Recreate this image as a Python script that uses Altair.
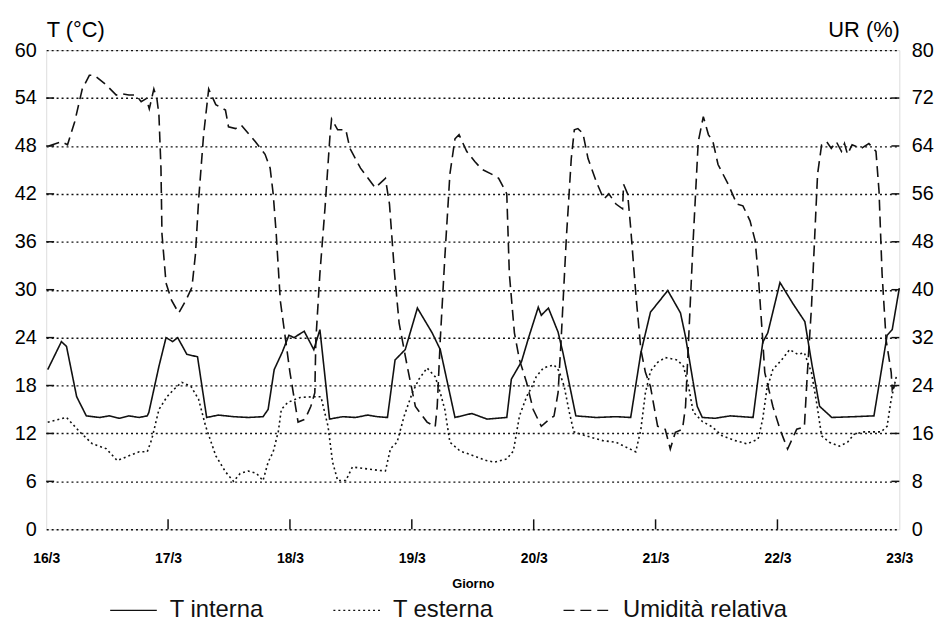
import altair as alt
import pandas as pd

# ---------------- data ----------------
day_labels = ["16/3", "17/3", "18/3", "19/3", "20/3", "21/3", "22/3", "23/3"]
day_hours = [0, 24, 48, 72, 96, 120, 144, 168]
t_ticks = [0, 6, 12, 18, 24, 30, 36, 42, 48, 54, 60]
ur_ticks = [0, 8, 16, 24, 32, 40, 48, 56, 64, 72, 80]

series_names = ["T interna", "T esterna", "Umidità relativa"]

ti_hours = [0.3, 3.0, 4.0, 6.0, 7.9, 10.5, 12.4, 14.4, 16.3, 18.3, 19.9, 20.2, 22.2, 23.6,
            24.9, 25.9, 27.7, 29.8, 31.6, 33.9, 36.9, 39.8, 42.7, 43.7, 44.9, 46.5, 47.8,
            48.8, 50.8, 52.7, 53.9, 55.8, 58.4, 60.9, 63.3, 65.2, 67.2, 68.7, 70.7, 73.1,
            76.0, 77.6, 80.5, 83.8, 86.8, 90.7, 91.6, 93.6, 95.0, 96.9, 97.5, 98.9, 100.8,
            101.8, 104.3, 108.3, 112.2, 115.1, 117.1, 119.0, 120.4, 122.4, 124.9, 125.9,
            128.2, 129.2, 131.7, 134.7, 139.2, 141.1, 142.1, 144.5, 147.0, 149.4, 150.8,
            152.3, 154.7, 159.1, 163.0, 165.6, 166.6, 168.0]
ti_vals = [20.0, 23.5, 22.9, 16.6, 14.2, 14.0, 14.2, 13.9, 14.2, 14.0, 14.2, 14.6, 20.4, 24.0,
           23.5, 24.0, 21.9, 21.6, 14.0, 14.3, 14.1, 14.0, 14.1, 15.0, 20.0, 22.2, 24.3,
           24.0, 24.8, 22.5, 25.0, 13.8, 14.1, 14.0, 14.3, 14.1, 14.0, 21.2, 22.5, 27.7,
           24.6, 22.5, 14.0, 14.5, 13.8, 14.0, 18.8, 21.0, 24.0, 27.8, 26.8, 27.7, 24.7,
           22.0, 14.2, 14.0, 14.1, 14.0, 22.1, 27.2, 28.3, 29.9, 27.1, 24.1,
           15.4, 14.0, 13.9, 14.2, 14.0, 23.4, 24.6, 30.9, 28.3, 26.0, 20.6,
           15.4, 14.0, 14.1, 14.2, 24.3, 25.0, 30.2]

te_hours = [0.3, 4.0, 6.6, 9.1, 11.8, 14.0, 15.9, 18.3, 19.9, 20.8, 22.2, 23.8, 25.1, 26.7,
            28.5, 30.0, 31.4, 33.4, 35.3, 36.9, 38.2, 39.8, 41.4, 42.7, 43.7, 44.7, 45.7,
            46.3, 47.6, 50.0, 52.5, 54.1, 55.5, 56.4, 57.4, 59.0, 60.3, 62.7, 65.2, 66.8,
            67.8, 69.1, 70.5, 72.1, 73.4, 75.0, 76.6, 77.6, 78.5, 79.5, 81.5, 84.2, 86.7,
            88.3, 90.7, 92.0, 93.2, 94.6, 95.6, 96.5, 97.9, 100.0, 101.0, 102.0, 103.0,
            103.9, 106.3, 109.6, 112.2, 116.1, 117.1, 118.0, 119.0, 120.4, 121.9, 124.3,
            125.5, 126.5, 127.4, 129.2, 131.2, 133.1, 135.7, 138.0, 140.2, 141.1, 141.9,
            143.1, 144.8, 146.4, 148.0, 149.3, 150.7, 151.7, 152.7, 154.2, 156.2, 157.8,
            159.1, 161.1, 164.4, 165.6, 166.4, 167.4]
te_vals = [13.4, 14.0, 12.2, 10.7, 10.1, 8.6, 9.1, 9.7, 9.7, 11.3, 15.0, 16.6, 17.5, 18.4,
           17.9, 16.3, 12.9, 9.2, 7.2, 6.0, 7.0, 7.3, 7.0, 6.1, 8.4, 9.7, 12.2,
           15.0, 15.9, 16.5, 16.6, 16.6, 12.9, 8.4, 6.1, 6.1, 7.8, 7.6, 7.4, 7.3,
           10.1, 10.9, 14.2, 17.1, 18.8, 20.2, 19.1, 17.1, 15.0, 10.9, 9.8, 9.2, 8.6,
           8.4, 8.8, 9.8, 14.2, 16.6, 17.8, 19.1, 20.2, 20.6, 19.8, 17.9, 14.7,
           12.2, 11.7, 11.1, 10.9, 9.7, 12.5, 17.1, 19.8, 20.9, 21.5, 21.2,
           20.4, 17.9, 14.7, 13.5, 12.8, 11.7, 11.1, 10.7, 11.3, 13.8, 17.5,
           20.0, 21.2, 22.5, 21.9, 22.1, 19.6, 15.9, 11.7, 10.9, 10.4, 10.9,
           11.9, 12.2, 12.2, 12.9, 16.3, 19.1]

ur_hours = [0.5, 3.0, 4.2, 5.6, 7.1, 8.5, 9.5, 11.8, 13.8, 15.0, 16.3, 17.7, 18.7, 19.7,
            20.3, 21.2, 21.8, 22.2, 22.6, 22.8, 23.6, 24.7, 26.1, 27.5, 28.7, 29.4, 30.0,
            31.0, 32.0, 33.4, 35.3, 35.9, 37.3, 38.4, 41.2, 43.1, 44.1, 44.7, 45.3, 46.1,
            48.0, 49.6, 51.0, 52.1, 52.9, 53.1, 53.9, 54.9, 55.9, 56.2, 57.4, 59.0, 59.8,
            61.9, 64.8, 66.8, 67.6, 68.6, 69.5, 71.1, 72.7, 75.0, 76.6, 77.0, 77.6, 78.5,
            79.5, 80.5, 81.3, 82.8, 84.4, 85.8, 87.7, 89.1, 90.1, 90.7, 91.2, 92.2, 93.2,
            94.6, 95.9, 97.5, 99.1, 100.0, 100.8, 101.4, 102.4, 103.4, 104.0, 104.7, 105.7,
            106.7, 108.3, 109.8, 110.8, 112.2, 113.5, 113.7, 114.5, 115.1, 116.1, 117.1,
            118.0, 119.0, 120.4, 121.9, 122.9, 123.9, 125.3, 125.9, 126.5, 127.4, 128.4,
            129.4, 130.4, 131.3, 132.3, 134.3, 136.0, 137.2, 138.6, 139.6, 140.2, 141.1,
            141.5, 143.1, 144.5, 146.0, 147.8, 149.3, 149.9, 150.7, 151.3, 151.9, 152.7,
            153.7, 154.6, 155.6, 156.6, 157.2, 157.8, 158.7, 160.5, 162.0, 163.4, 164.0,
            164.6, 165.4, 166.4, 166.6, 167.4]
ur_vals = [64.0, 64.7, 64.2, 68.0, 73.5, 75.8, 75.8, 74.2, 72.5, 72.7, 72.5, 72.5, 71.4, 71.9,
           70.2, 73.5, 71.9, 69.2, 60.3, 49.3, 41.1, 38.2, 36.1, 38.2, 40.4, 46.0, 54.8,
           65.9, 73.5, 70.9, 70.0, 67.2, 66.9, 67.5, 64.7, 62.6, 60.3, 56.0, 49.3, 38.2,
           26.2, 17.9, 18.4, 20.5, 22.8, 31.6, 42.7, 53.6, 65.9, 68.5, 66.7, 66.7, 63.6,
           60.3, 57.0, 58.6, 54.3, 42.7, 34.4, 27.2, 20.5, 17.9, 17.1, 20.5, 31.6, 45.4,
           59.3, 65.2, 65.9, 63.1, 61.4, 60.1, 59.3, 58.6, 57.0, 56.0, 42.7, 32.8, 28.3,
           24.5, 20.0, 17.2, 18.4, 18.9, 22.8, 31.6, 48.2, 61.9, 66.7, 66.9, 66.1,
           61.9, 58.1, 55.1, 56.0, 54.3, 53.5, 57.6, 56.0, 50.3, 39.4, 30.0,
           26.2, 23.8, 17.2, 16.7, 13.4, 16.2, 16.7, 20.5, 31.6, 48.2, 64.7,
           68.9, 65.9, 64.7, 60.9, 57.6, 54.3, 54.0, 51.5, 48.2, 42.7, 31.6,
           26.2, 20.5, 16.7, 13.4, 16.7, 17.1, 26.2, 37.1, 48.2, 59.3, 64.2,
           64.7, 63.6, 64.7, 63.1, 64.4, 62.6, 64.2, 63.6, 64.4, 63.1, 56.5,
           42.7, 31.6, 26.2, 23.3, 24.5]

# ---------------- tables ----------------
rows = []
for hs, vs, name in [(ti_hours, ti_vals, series_names[0]),
                     (te_hours, te_vals, series_names[1]),
                     (ur_hours, ur_vals, series_names[2])]:
    for h, v in zip(hs, vs):
        rows.append({"ora": h, "val": v, "serie": name})
df = pd.DataFrame(rows)

df_tt = pd.DataFrame({"v": t_ticks[1:-1]})
df_xt = pd.DataFrame({"ora": day_hours[1:-1]})

W, H = 860, 483
INK = "#111111"
FONT = "Liberation Sans"

label_js = "[" + ",".join("'" + s + "'" for s in day_labels) + "][round(datum.value/24)]"

x_enc = alt.X(
    "ora:Q",
    scale=alt.Scale(domain=[0, 168], nice=False, zero=False),
    axis=alt.Axis(
        values=day_hours, labelExpr=label_js, title="Giorno",
        ticks=False, domain=False, grid=False, labelFlush=False,
        labelFontSize=14, labelFontWeight="bold", labelPadding=22,
        titleFontSize=13, titleFontWeight="bold", titleY=55, titleBaseline="middle",
    ),
)

dash = alt.StrokeDash(
    "serie:N",
    scale=alt.Scale(domain=series_names, range=[[1, 0], [2, 3], [11, 6]]),
    legend=alt.Legend(
        title=None, orient="none", legendX=63.5, legendY=540, direction="horizontal",
        symbolType="stroke", symbolSize=2209, symbolStrokeWidth=1.5,
        symbolStrokeColor=INK, labelFontSize=24, labelFont=FONT, labelColor=INK,
        labelOffset=12, columnPadding=67, padding=0, labelLimit=400,
    ),
)

t_layer = alt.Chart(df).transform_filter(
    alt.datum.serie != "Umidità relativa"
).mark_line(strokeWidth=1.6, color=INK).encode(
    x=x_enc,
    y=alt.Y(
        "val:Q",
        scale=alt.Scale(domain=[0, 60], nice=False),
        axis=alt.Axis(
            orient="left", values=t_ticks, title="T (°C)", titleAngle=0,
            titleX=0, titleY=-21, titleAlign="left", titleBaseline="middle",
            titleFontSize=22, titleFontWeight="normal",
            labelFontSize=20, labelPadding=10, ticks=False, domain=False,
            grid=True, gridDash=[2, 3], gridColor=INK, gridWidth=1.4,
        ),
    ),
    strokeDash=dash,
)

ur_layer = alt.Chart(df).transform_filter(
    alt.datum.serie == "Umidità relativa"
).mark_line(strokeWidth=1.6, color=INK).encode(
    x=x_enc,
    y=alt.Y(
        "val:Q",
        scale=alt.Scale(domain=[0, 80], nice=False),
        axis=alt.Axis(
            orient="right", values=ur_ticks, title="UR (%)", titleAngle=0,
            titleX=0, titleY=-21, titleAlign="right", titleBaseline="middle",
            titleFontSize=22, titleFontWeight="normal",
            labelFontSize=20, labelPadding=12, ticks=False, domain=False, grid=False,
        ),
    ),
    strokeDash=dash,
)

left_ticks = alt.Chart(df_tt).mark_rule(color=INK, strokeWidth=1.5).encode(
    y=alt.Y("v:Q", scale=alt.Scale(domain=[0, 60], nice=False), axis=None),
    x=alt.value(0), x2=alt.value(8),
)
right_ticks = alt.Chart(df_tt).mark_rule(color=INK, strokeWidth=1.5).encode(
    y=alt.Y("v:Q", scale=alt.Scale(domain=[0, 60], nice=False), axis=None),
    x=alt.value(W - 8), x2=alt.value(W),
)
bottom_ticks = alt.Chart(df_xt).mark_rule(color=INK, strokeWidth=1.5).encode(
    x=x_enc, y=alt.value(H - 10), y2=alt.value(H),
)

chart = alt.layer(t_layer, ur_layer, left_ticks, right_ticks, bottom_ticks).resolve_scale(
    y="independent"
).properties(
    width=W, height=H,
    autosize=alt.AutoSizeParams(type="none"),
    padding={"left": 38.5, "top": 40, "right": 41, "bottom": 91},
    background="white",
).configure_view(
    stroke=INK, strokeWidth=1.5
).configure_axis(
    labelColor=INK, titleColor=INK, labelFont=FONT, titleFont=FONT,
).configure(font=FONT)

chart.save("out.html", embed_options={"renderer": "svg", "actions": False})
